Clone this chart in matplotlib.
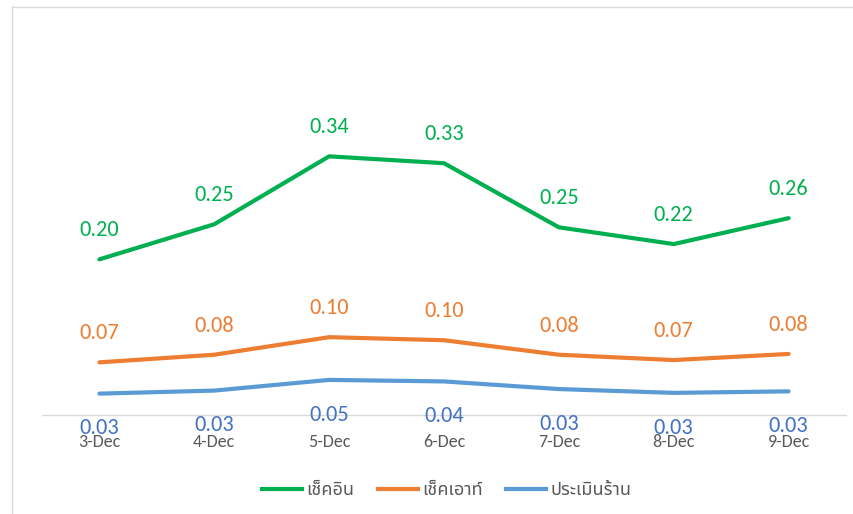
import matplotlib
matplotlib.use("Agg")
import matplotlib.pyplot as plt
from matplotlib import font_manager
from matplotlib.lines import Line2D

# data
days = ["3-Dec", "4-Dec", "5-Dec", "6-Dec", "7-Dec", "8-Dec", "9-Dec"]
check_in = [0.204, 0.250, 0.339, 0.330, 0.246, 0.224, 0.258]
check_out = [0.069, 0.079, 0.102, 0.098, 0.079, 0.072, 0.080]
rating = [0.028, 0.032, 0.046, 0.044, 0.034, 0.029, 0.031]
series_names = ["เช็คอิน", "เช็คเอาท์", "ประเมินร้าน"]

green = "#00B050"
orange = "#ED7D31"
blue = "#5B9BD5"
blue_text = "#4472C4"
grey_text = "#595959"


def first_font(cands, default="DejaVu Sans"):
    available = {f.name for f in font_manager.fontManager.ttflist}
    for c in cands:
        if c in available:
            return c
    return default


thai_font = first_font(["Noto Sans Thai", "Noto Sans Thai UI", "Sarabun", "Prompt", "Kanit", "Athiti"])
calibri = first_font(["Carlito", "Liberation Sans Narrow", "Open Sans"])
lbl_size = 16 if calibri == "Carlito" else 14
tick_size = 13 if calibri == "Carlito" else 11

fig = plt.figure(figsize=(8.54, 5.14), dpi=100)
ax = fig.add_axes([42 / 854, 99 / 514, 804 / 854, 381.5 / 514])

x = list(range(len(days)))
for vals, col, tcol, off in [(check_in, green, green, 21),
                             (check_out, orange, orange, 21),
                             (rating, blue, blue_text, -25)]:
    ax.plot(x, vals, color=col, lw=3, solid_capstyle="round", solid_joinstyle="round")
    for xi, v in zip(x, vals):
        ax.annotate("%.2f" % v, (xi, v), xytext=(0, off), textcoords="offset points",
                    ha="center", va="center", fontsize=lbl_size, color=tcol, family=calibri)

ax.set_xlim(-0.5, len(days) - 0.5)
ax.set_ylim(0, 0.5)
ax.set_xticks(x)
ax.set_xticklabels(days, family=calibri, fontsize=tick_size, color=grey_text)
ax.tick_params(axis="x", length=0, pad=14)
ax.set_yticks([])
for s in ["top", "right", "left"]:
    ax.spines[s].set_visible(False)
ax.spines["bottom"].set_color("#d9d9d9")
ax.spines["bottom"].set_linewidth(1)

handles = [Line2D([], [], color=c, lw=3) for c in [green, orange, blue]]
fig.legend(handles, series_names, loc="center", bbox_to_anchor=(447 / 854, 24 / 514),
           ncol=3, frameon=False, handlelength=2.2, handletextpad=0.25, columnspacing=1.3,
           prop={"family": thai_font, "size": 13}, labelcolor=grey_text)

# outer chart border (left and top visible)
fig.add_artist(Line2D([12 / 854, 12 / 854], [0, 507 / 514], color="#d9d9d9", lw=1))
fig.add_artist(Line2D([12 / 854, 1], [507 / 514, 507 / 514], color="#d9d9d9", lw=1))

fig.savefig("out.png", dpi=100)
